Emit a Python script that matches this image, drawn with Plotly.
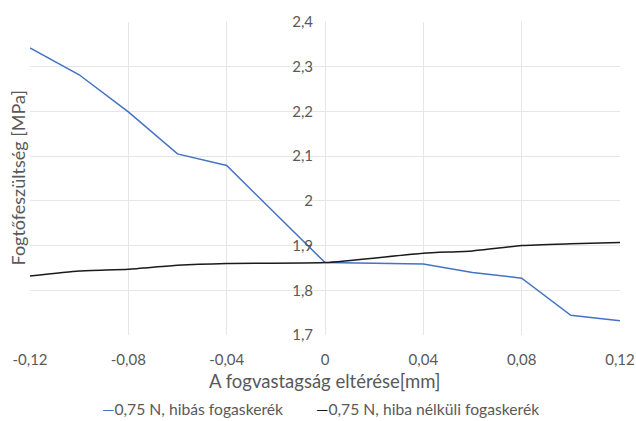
import plotly.graph_objects as go

# Tooth-thickness deviation [mm]
deviation = [-0.12, -0.10, -0.08, -0.06, -0.04, 0.0, 0.04, 0.06, 0.08, 0.10, 0.12]

# Tooth-root stress [MPa]
stress_faulty = [2.342, 2.282, 2.199, 2.105, 2.079, 1.862, 1.859, 1.840, 1.827, 1.744, 1.732]
stress_ok = [1.832, 1.843, 1.847, 1.856, 1.860, 1.862, 1.883, 1.888, 1.900, 1.904, 1.907]

name_faulty = "0,75 N, hibás fogaskerék"
name_ok = "0,75 N, hiba nélküli fogaskerék"

x_ticks = [-0.12, -0.08, -0.04, 0.0, 0.04, 0.08, 0.12]
x_labels = ["-0,12", "-0,08", "-0,04", "0", "0,04", "0,08", "0,12"]
y_ticks = [1.7, 1.8, 1.9, 2.0, 2.1, 2.2, 2.3, 2.4]
y_labels = ["1,7", "1,8", "1,9", "2", "2,1", "2,2", "2,3", "2,4"]

FONT = "Lato"
TXT = "#595959"
GRID = "#e6e6e6"
BLUE = "#4472c4"
BLACK = "#1a1a1a"

fig = go.Figure()
fig.add_trace(go.Scatter(
    x=deviation, y=stress_faulty, mode="lines", name=name_faulty,
    line=dict(color=BLUE, width=1.5),
))
fig.add_trace(go.Scatter(
    x=deviation, y=stress_ok, mode="lines", name=name_ok,
    line=dict(color=BLACK, width=1.5, shape="spline", smoothing=0.5),
))

# Legend entries as text with a short coloured dash in front
legend_items = [
    dict(text=f"<span style='color:{BLUE}'>—</span>{name_faulty}", x=0.119),
    dict(text=f"<span style='color:{BLACK}'>—</span>{name_ok}", x=0.482),
]
annotations = [
    dict(text=it["text"], xref="paper", yref="paper", x=it["x"], y=-0.238,
         xanchor="left", yanchor="middle", showarrow=False,
         font=dict(size=15.7, color=TXT, family=FONT))
    for it in legend_items
]
annotations.append(dict(
    text="A fogvastagság eltérése[mm]", xref="paper", yref="paper",
    x=0.5, y=-0.146, xanchor="center", yanchor="middle", showarrow=False,
    font=dict(size=18.5, color=TXT, family=FONT),
))
annotations.append(dict(
    text="Fogtőfeszültség [MPa]", xref="paper", yref="paper",
    x=-0.022, y=0.5, xanchor="center", yanchor="middle",
    textangle=-90, showarrow=False, font=dict(size=18, color=TXT, family=FONT),
))

fig.update_layout(
    width=636, height=421,
    margin=dict(l=30, r=16, t=22, b=86),
    paper_bgcolor="white", plot_bgcolor="white",
    font=dict(family=FONT, color=TXT, size=14),
    showlegend=False,
    xaxis=dict(
        range=[-0.12, 0.12], tickvals=x_ticks, ticktext=x_labels,
        showgrid=True, gridcolor=GRID, gridwidth=1,
        zeroline=True, zerolinecolor=GRID, zerolinewidth=1,
        showline=False, ticks="", tickfont=dict(size=15, color=TXT),
        ticklabelstandoff=14, automargin=False,
        fixedrange=True,
    ),
    yaxis=dict(
        range=[1.7, 2.4], tickvals=y_ticks, ticktext=y_labels,
        anchor="free", position=0.5,
        showgrid=True, gridcolor=GRID, gridwidth=1,
        zeroline=False, showline=False, ticks="",
        tickfont=dict(size=15, color=TXT), ticklabelstandoff=12,
        automargin=False, fixedrange=True,
    ),
    annotations=annotations,
)

fig.write_html("out.html")
